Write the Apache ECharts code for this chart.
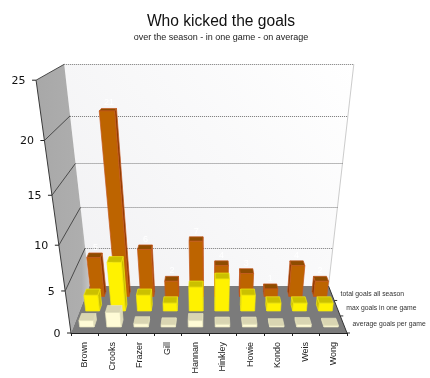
<!DOCTYPE html>
<html>
<head>
<meta charset="utf-8">
<style>
  html, body { margin: 0; padding: 0; background: #fff; }
  #chart { width: 430px; height: 378px; }
</style>
<script src="https://cdn.jsdelivr.net/npm/echarts@6/dist/echarts.min.js"></script>
</head>
<body>
<div id="chart"></div>
<script>
const players = ['Brown', 'Crooks', 'Frazer', 'Gill', 'Hannan', 'Hinkley', 'Howie', 'Kondo', 'Weis', 'Wong']
const totalGoals = [5, 21, 6, 2, 7, 4, 3, 1, 4, 2]
const maxGoals = [2, 6, 2, 1, 3, 4, 2, 1, 1, 1]
const avgGoals = [0.8, 1.8, 0.4, 0.25, 0.8, 0.35, 0.35, 0.15, 0.3, 0.2]
const yTicks = [0, 5, 10, 15, 20, 25]
const rowLabels = ['total goals all season', 'max goals in one game', 'average goals per game']

// flat grid is the front plane of the box, project() bends it into perspective
const GRID = { left: 71, top: 64, width: 276, height: 269 }
const BOTTOM = GRID.top + GRID.height
const CX = GRID.left + GRID.width / 2
const KY = -0.202 / GRID.height
const KZ = 0.155
const KC = -2.7

function project (p, z) {
  const w = 1 + KY * (BOTTOM - p[1]) + KZ * z
  return [CX + (p[0] - CX) / w, (p[1] + KC * z) / w]
}

function barItem (z0, depth, colors, showValue) {
  return function (params, api) {
    const i = api.value(0)
    const v = api.value(1)
    const halfW = api.size([1, 0])[0] * 0.265
    const base = api.coord([i, 0])
    const top = api.coord([i, v])
    const l = base[0] - halfW
    const r = base[0] + halfW
    const z1 = z0 + depth
    const fl = project([l, base[1]], z0)
    const fr = project([r, base[1]], z0)
    const tl = project([l, top[1]], z0)
    const tr = project([r, top[1]], z0)
    const bl = project([l, base[1]], z1)
    const br = project([r, base[1]], z1)
    const kl = project([l, top[1]], z1)
    const kr = project([r, top[1]], z1)
    const face = (pts, fill) => ({
      type: 'polygon',
      shape: { points: pts },
      style: { fill: fill, stroke: colors.edge, lineWidth: 0.7 }
    })
    const children = []
    if (base[0] < CX) {
      children.push(face([fr, br, kr, tr], colors.side))
    } else {
      children.push(face([fl, bl, kl, tl], colors.side))
    }
    children.push(face([tl, tr, kr, kl], colors.top))
    children.push(face([fl, fr, tr, tl], colors.front))
    if (showValue) {
      children.push({
        type: 'text',
        style: {
          text: String(v),
          x: (kl[0] + kr[0]) / 2,
          y: kl[1] - 1,
          align: 'center',
          verticalAlign: 'bottom',
          fill: '#ffffff',
          font: '9px "Liberation Sans"'
        }
      })
    }
    return { type: 'group', children: children }
  }
}

function boxItem (params, api) {
  const sys = params.coordSys
  const l = sys.x
  const r = sys.x + sys.width
  const b = api.coord([0, yTicks[0]])[1]
  const t = api.coord([0, yTicks[yTicks.length - 1]])[1]
  const bfl = project([l, b], 0)
  const bfr = project([r, b], 0)
  const tfl = project([l, t], 0)
  const bbl = project([l, b], 1)
  const bbr = project([r, b], 1)
  const tbl = project([l, t], 1)
  const tbr = project([r, t], 1)
  return {
    type: 'group',
    children: [
      {
        type: 'polygon',
        shape: { points: [tbl, tbr, bbr, bbl] },
        style: {
          fill: {
            type: 'linear', x: 1, y: 0, x2: 0, y2: 1,
            colorStops: [{ offset: 0, color: '#ffffff' }, { offset: 1, color: '#f1f1f3' }]
          }
        }
      },
      {
        type: 'polygon',
        shape: { points: [tfl, tbl, bbl, bfl] },
        style: {
          fill: {
            type: 'linear', x: 0, y: 0, x2: 1, y2: 0,
            colorStops: [{ offset: 0, color: '#a8a8a8' }, { offset: 0.85, color: '#aeaeae' }, { offset: 1, color: '#c4c4c4' }]
          }
        }
      },
      {
        type: 'polygon',
        shape: { points: [bfl, bfr, bbr, bbl] },
        style: { fill: '#7b7b7b' }
      },
      {
        type: 'polyline',
        shape: { points: [tbr, bbr] },
        style: { stroke: '#cccccc', lineWidth: 1, fill: null }
      },
      {
        type: 'polyline',
        shape: { points: [tfl, bfl] },
        style: { stroke: '#3a3a3a', lineWidth: 1, fill: null }
      },
      {
        type: 'polyline',
        shape: { points: [bfr, bbr] },
        style: { stroke: '#333333', lineWidth: 1, fill: null }
      }
    ]
  }
}

function tickItem (params, api) {
  const v = api.value(0)
  const sys = params.coordSys
  const y = api.coord([0, v])[1]
  const front = project([sys.x, y], 0)
  const backL = project([sys.x, y], 1)
  const backR = project([sys.x + sys.width, y], 1)
  const children = [
    {
      type: 'line',
      shape: { x1: front[0] - 4, y1: front[1], x2: front[0], y2: front[1] },
      style: { stroke: '#222222', lineWidth: 1 }
    },
    {
      type: 'text',
      style: {
        text: String(v),
        x: front[0] - 10.5,
        y: front[1] + 1,
        align: 'right',
        verticalAlign: 'middle',
        fill: '#111111',
        font: '11px "DejaVu Sans"'
      }
    }
  ]
  if (v > 0) {
    children.push({
      type: 'line',
      shape: { x1: front[0], y1: front[1], x2: backL[0], y2: backL[1] },
      style: { stroke: '#4a4a4a', lineWidth: 1 }
    })
    children.push({
      type: 'line',
      shape: { x1: backL[0], y1: Math.round(backL[1]) + 0.5, x2: backR[0], y2: Math.round(backR[1]) + 0.5 },
      style: { stroke: '#777777', lineWidth: 1, lineDash: [1, 1] }
    })
  }
  return { type: 'group', children: children }
}

function rowLabelItem (params, api) {
  const i = params.dataIndex
  const sys = params.coordSys
  const right = [sys.x + sys.width, api.coord([0, 0])[1]]
  const mid = project(right, [0.81, 0.49, 0.17][i])
  const edge = project(right, [0.66, 0.33, 0][i])
  return {
    type: 'group',
    children: [
      {
        type: 'line',
        shape: { x1: edge[0], y1: edge[1], x2: edge[0] + 3, y2: edge[1] },
        style: { stroke: '#333333', lineWidth: 1 }
      },
      {
        type: 'text',
        style: {
          text: rowLabels[i],
          x: mid[0] + 9,
          y: mid[1],
          align: 'left',
          verticalAlign: 'middle',
          fill: '#333333',
          font: '6.8px "Liberation Sans"'
        }
      }
    ]
  }
}

function barSeries (values, z0, depth, colors, showValue) {
  return {
    type: 'custom',
    coordinateSystem: 'cartesian2d',
    silent: true,
    encode: { x: 0, y: 1 },
    data: values.map((v, i) => [i, v]),
    renderItem: barItem(z0, depth, colors, showValue)
  }
}

const chart = echarts.init(document.getElementById('chart'), null, { renderer: 'canvas' })
chart.setOption({
  animation: false,
  backgroundColor: '#ffffff',
  title: {
    text: 'Who kicked the goals',
    subtext: 'over the season - in one game - on average',
    left: 216,
    top: 9,
    textAlign: 'center',
    itemGap: 3,
    textStyle: { fontFamily: 'Liberation Sans', fontSize: 15.6, fontWeight: 'normal', color: '#111111' },
    subtextStyle: { fontFamily: 'Liberation Sans', fontSize: 9, color: '#222222' }
  },
  grid: GRID,
  xAxis: {
    type: 'category',
    data: players,
    z: 5,
    axisLine: { show: true, onZero: false, lineStyle: { color: '#222222', width: 1 } },
    axisTick: { show: true, length: 3, lineStyle: { color: '#222222' } },
    axisLabel: {
      rotate: 90,
      interval: 0,
      margin: 9,
      fontFamily: 'Liberation Sans',
      fontSize: 9,
      color: '#222222'
    }
  },
  yAxis: {
    type: 'value',
    show: false,
    min: 0,
    max: 25,
    interval: 5
  },
  series: [
    {
      type: 'custom',
      coordinateSystem: 'cartesian2d',
      silent: true,
      data: [[0, 0]],
      encode: { x: 0, y: 1 },
      renderItem: boxItem
    },
    {
      type: 'custom',
      coordinateSystem: 'cartesian2d',
      silent: true,
      data: yTicks.map(v => [v]),
      encode: { y: 0 },
      renderItem: tickItem
    },
    {
      type: 'custom',
      coordinateSystem: 'cartesian2d',
      silent: true,
      data: rowLabels.map((s, i) => [i, 0]),
      encode: { x: 0, y: 1 },
      renderItem: rowLabelItem
    },
    barSeries(totalGoals, 0.75, 0.12, { front: '#bd6400', side: '#8a3a00', top: '#8e4c00', edge: '#c4561c' }, true),
    barSeries(maxGoals, 0.432, 0.14, { front: '#fff200', side: '#c9bd00', top: '#cbc000', edge: '#f0e610' }, false),
    barSeries(avgGoals, 0.112, 0.14, { front: '#fffbd6', side: '#dcd8b6', top: '#d9d5b2', edge: '#e4e1bc' }, false)
  ]
})
</script>
</body>
</html>
